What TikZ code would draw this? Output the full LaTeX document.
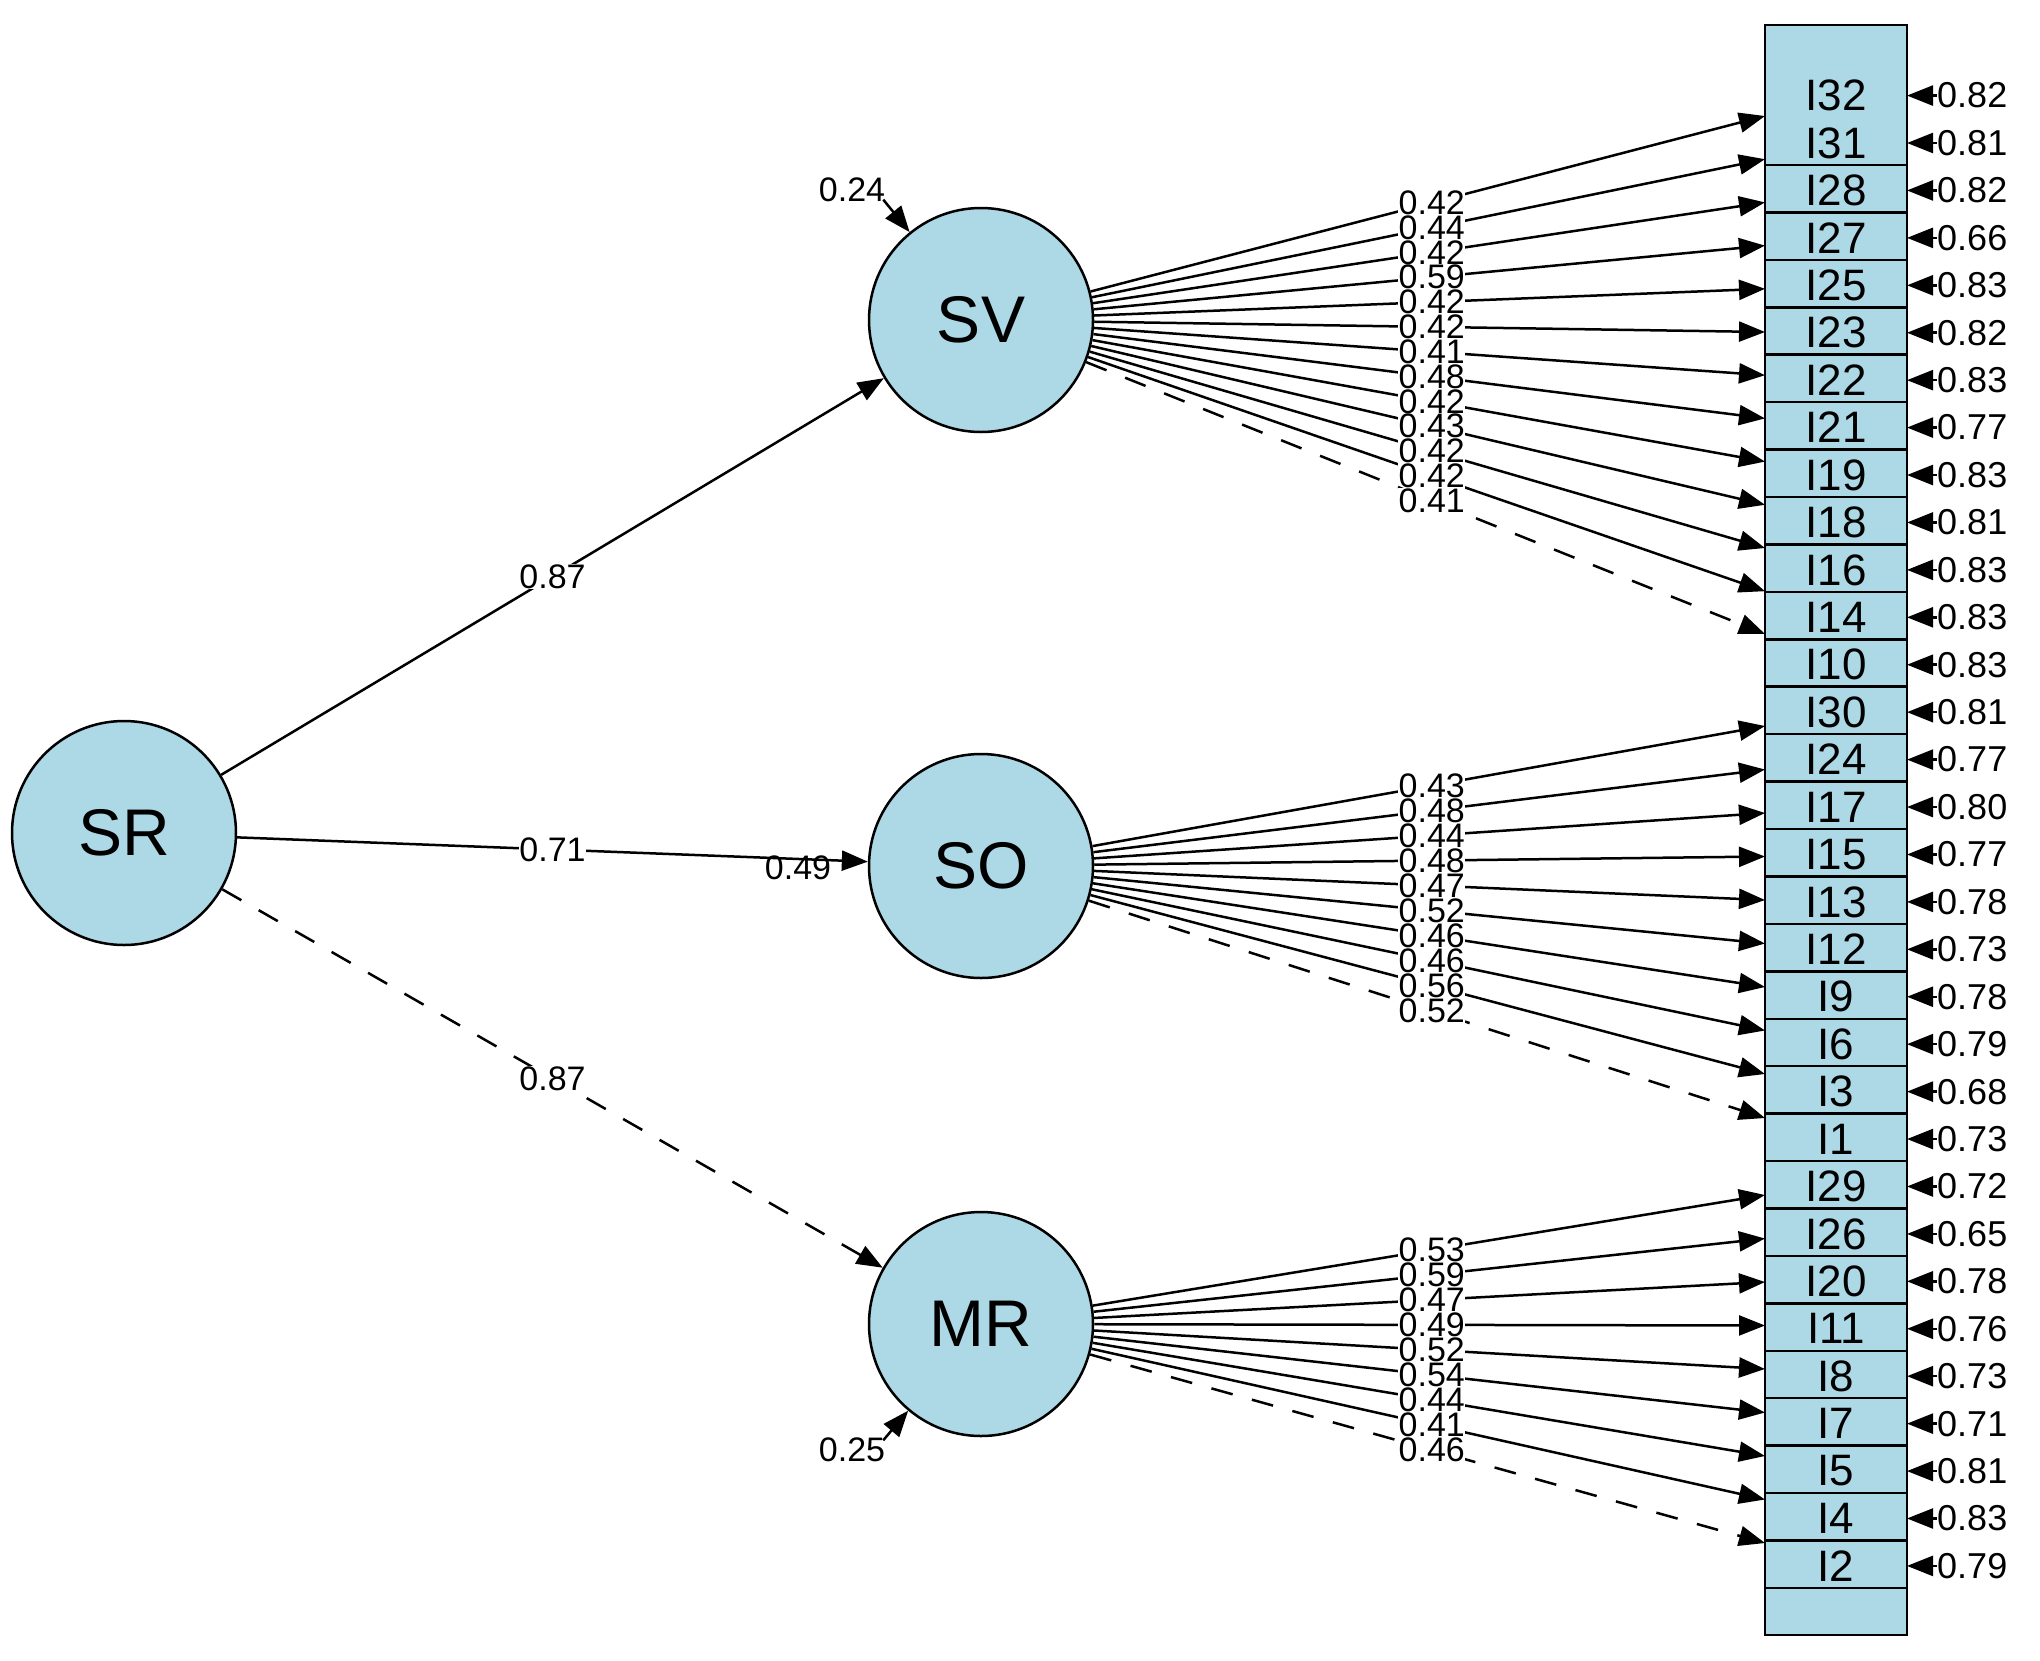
\documentclass[tikz,border=0pt]{standalone}
\usepackage{fontspec}
\setmainfont{Liberation Sans}
\usetikzlibrary{arrows.meta,calc}
\definecolor{lb}{RGB}{173,216,230}
\begin{document}
\begin{tikzpicture}[x=1pt,y=-1pt,
  lat/.style={circle,draw,fill=lb,line width=2.5pt,minimum size=224pt,inner sep=0pt,font=\fontsize{66}{70}\selectfont},
  item/.style={inner sep=0pt,font=\fontsize{44}{46}\selectfont},
  res/.style={anchor=west,inner sep=0pt,font=\fontsize{36}{40}\selectfont},
  lab/.style={fill=white,inner sep=0.5pt,font=\fontsize{34}{38}\selectfont},
  arr/.style={line width=2.5pt,-{Triangle[length=26pt,width=20pt]}},
  dsh/.style={arr,dash pattern=on 22pt off 20pt}]
\useasboundingbox (0,0) rectangle (2040,1660);
% indicator column
\draw[fill=lb,line width=2.5pt] (1765,25) rectangle (1907,1635);
\foreach \j in {0,...,30} \draw[line width=2.5pt] (1765,{165+47.43*\j}) -- (1907,{165+47.43*\j});
\foreach \n/\v [count=\k from 0] in {I32/0.82,I31/0.81,I28/0.82,I27/0.66,I25/0.83,I23/0.82,I22/0.83,I21/0.77,I19/0.83,I18/0.81,I16/0.83,I14/0.83,I10/0.83,I30/0.81,I24/0.77,I17/0.80,I15/0.77,I13/0.78,I12/0.73,I9/0.78,I6/0.79,I3/0.68,I1/0.73,I29/0.72,I26/0.65,I20/0.78,I11/0.76,I8/0.73,I7/0.71,I5/0.81,I4/0.83,I2/0.79}{
  \node[item] (\n) at (1836,{143+47.43*(\k-1)}) {\n};
  \coordinate (r\n) at (1907,{143+47.43*(\k-1)});
  \node[res] (e\n) at (1937,{143+47.43*(\k-1)}) {\v};
  \draw[arr] (e\n.west) -- (r\n);
}
% latent variables
\node[lat] (SR) at (124,833) {SR};
\node[lat] (SV) at (981,320) {SV};
\node[lat] (SO) at (981,866) {SO};
\node[lat] (MR) at (981,1324) {MR};
% structural paths
\draw[arr] (SR) -- (SV) node[lab,pos=0.5] {0.87};
\draw[arr] (SR) -- (SO) node[lab,pos=0.5] {0.71};
\draw[dsh] (SR) -- (MR) node[lab,pos=0.5] {0.87};
\node[lab,fill=none] (vSO) at (798,868) {0.49};
\node[lab,fill=none] (vSV) at (852,190) {0.24};
\node[lab,fill=none] (vMR) at (852,1450) {0.25};
\draw[arr,shorten <=-4pt] (vSV.south east) -- (SV);
\draw[arr,shorten <=-4pt] (vMR.north east) -- (MR);
% loadings SV
\foreach \n/\v [count=\k from 0] in {I32/0.42,I31/0.44,I28/0.42,I27/0.59,I25/0.42,I23/0.42,I22/0.41,I21/0.48,I19/0.42,I18/0.43,I16/0.42,I14/0.42}{
  \coordinate (t\n) at (1765,{116+43.2*\k});
  \draw[arr] (SV) -- (t\n);
  \node[lab] at ($(SV)!0.575!(t\n)$) {\v};
}
\coordinate (tI10) at (1765,634);
\draw[dsh] (SV) -- (tI10);
\node[lab] at ($(SV)!0.575!(tI10)$) {0.41};
% loadings SO
\foreach \n/\v [count=\k from 0] in {I30/0.43,I24/0.48,I17/0.44,I15/0.48,I13/0.47,I12/0.52,I9/0.46,I6/0.46,I3/0.56}{
  \coordinate (t\n) at (1765,{726+43.5*\k});
  \draw[arr] (SO) -- (t\n);
  \node[lab] at ($(SO)!0.575!(t\n)$) {\v};
}
\coordinate (tI1) at (1765,1118);
\draw[dsh] (SO) -- (tI1);
\node[lab] at ($(SO)!0.575!(tI1)$) {0.52};
% loadings MR
\foreach \n/\v [count=\k from 0] in {I29/0.53,I26/0.59,I20/0.47,I11/0.49,I8/0.52,I7/0.54,I5/0.44,I4/0.41}{
  \coordinate (t\n) at (1765,{1195+43.5*\k});
  \draw[arr] (MR) -- (t\n);
  \node[lab] at ($(MR)!0.575!(t\n)$) {\v};
}
\coordinate (tI2) at (1765,1543);
\draw[dsh] (MR) -- (tI2);
\node[lab] at ($(MR)!0.575!(tI2)$) {0.46};
\end{tikzpicture}
\end{document}
